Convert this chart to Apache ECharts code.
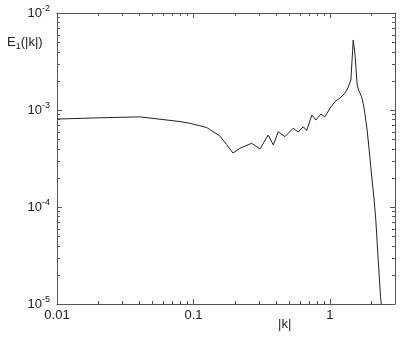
<!DOCTYPE html>
<html>
<head>
<meta charset="utf-8">
<script src="https://cdn.jsdelivr.net/npm/echarts@6/dist/echarts.min.js"></script>
<style>
  html, body { margin: 0; padding: 0; background: #fff; }
  #chart { width: 403px; height: 347px; }
</style>
</head>
<body>
<div id="chart"></div>
<script>
// |k| values and energy spectrum E1(|k|)
var kValues = [0.01, 0.02, 0.0405, 0.0796, 0.094, 0.125, 0.156, 0.175, 0.195, 0.219, 0.267, 0.307, 0.353,
  0.385, 0.418, 0.468, 0.538, 0.586, 0.637, 0.675, 0.738, 0.789, 0.859, 0.918, 1.0, 1.088, 1.12, 1.18,
  1.22, 1.288, 1.325, 1.36, 1.40, 1.425, 1.466, 1.482, 1.524, 1.55, 1.585, 1.622, 1.66, 1.706, 1.754,
  1.803, 1.875, 1.94, 2.02, 2.11, 2.17, 2.26, 2.35, 2.38];
var eValues = [8.07e-4, 8.3e-4, 8.5e-4, 7.6e-4, 7.3e-4, 6.6e-4, 5.4e-4, 4.4e-4, 3.6e-4, 4.03e-4, 4.54e-4,
  3.96e-4, 5.52e-4, 4.36e-4, 5.97e-4, 5.31e-4, 6.47e-4, 5.93e-4, 6.73e-4, 6.15e-4, 8.87e-4, 7.88e-4,
  9.1e-4, 8.48e-4, 1.04e-3, 1.22e-3, 1.17e-3, 1.32e-3, 1.27e-3, 1.49e-3, 1.43e-3, 1.71e-3, 1.67e-3,
  2.04e-3, 3.99e-3, 5.27e-3, 3.85e-3, 2.79e-3, 1.81e-3, 1.61e-3, 1.55e-3, 1.37e-3, 1.17e-3, 9.25e-4,
  6.22e-4, 3.87e-4, 2.14e-4, 1.18e-4, 7.35e-5, 2.84e-5, 1.19e-5, 1.0e-5];
// axis ranges and the decades used for the ticks
var xRange = [0.01, 3];
var yRange = [1e-5, 1e-2];
var xDecades = [0.01, 0.1, 1];
var yDecades = [1e-5, 1e-4, 1e-3, 1e-2];

var seriesData = [];
for (var i = 0; i < kValues.length; i++) {
    seriesData.push([kValues[i], eValues[i]]);
}

function isDecade(v) {
    var l = Math.log10(v);
    return Math.abs(l - Math.round(l)) < 1e-6;
}

var frameColor = '#555';
var font = 'Liberation Sans, Arial, sans-serif';

function xAxisOpt(pos, labels) {
    return {
        type: 'log', logBase: 10, position: pos,
        min: xRange[0], max: xRange[1],
        axisLine: { show: true, lineStyle: { color: frameColor, width: 1 } },
        axisTick: { show: false },
        splitLine: { show: false },
        axisLabel: {
            show: labels, margin: 5, color: '#222', fontSize: 13, fontFamily: font,
            showMaxLabel: false,
            formatter: function (v) {
                if (!isDecade(v)) return '';
                return String(+v.toPrecision(3));
            }
        }
    };
}
function yAxisOpt(pos, labels) {
    return {
        type: 'log', logBase: 10, position: pos,
        min: yRange[0], max: yRange[1],
        axisLine: { show: true, lineStyle: { color: frameColor, width: 1 } },
        axisTick: { show: false },
        splitLine: { show: false },
        axisLabel: {
            show: labels, margin: 7, color: '#222', fontFamily: font,
            formatter: function (v) {
                if (!isDecade(v)) return '';
                return '{b|10}{s|' + Math.round(Math.log10(v)) + '}';
            },
            rich: {
                b: { fontSize: 13, fontFamily: font, color: '#222' },
                s: { fontSize: 9, fontFamily: font, color: '#222', padding: [0, 0, 9, 0] }
            }
        }
    };
}

var chart = echarts.init(document.getElementById('chart'));
chart.setOption({
    backgroundColor: '#fff',
    animation: false,
    grid: { left: 57, right: 8, top: 13, bottom: 43 },
    xAxis: [xAxisOpt('bottom', true), xAxisOpt('top', false)],
    yAxis: [yAxisOpt('left', true), yAxisOpt('right', false)],
    series: [{
        type: 'line',
        data: seriesData,
        symbol: 'none',
        clip: true,
        lineStyle: { color: '#222', width: 1 }
    }]
});

// ticks (major at decades, minor at 2..9) on all four sides, placed through the axis scales
var majorLen = 5, minorLen = 3;
var plotTop = chart.convertToPixel({ yAxisIndex: 0 }, yRange[1]);
var plotBottom = chart.convertToPixel({ yAxisIndex: 0 }, yRange[0]);
var plotLeft = chart.convertToPixel({ xAxisIndex: 0 }, xRange[0]);
var plotRight = chart.convertToPixel({ xAxisIndex: 0 }, xRange[1]);
function tickLine(x1, y1, x2, y2) {
    return { type: 'line', silent: true, shape: { x1: x1, y1: y1, x2: x2, y2: y2 }, style: { stroke: frameColor, lineWidth: 1 } };
}
var graphics = [
    {
        type: 'text', left: 7, top: 36,
        style: {
            text: '{e|E}{sub|1}{e|(|k|)}',
            rich: {
                e: { fontSize: 13, fontFamily: font, fill: '#222' },
                sub: { fontSize: 9, fontFamily: font, fill: '#222', padding: [9, 0, 0, 0] }
            }
        }
    },
    {
        type: 'text', left: 278, top: 318,
        style: { text: '|k|', fontSize: 13, fontFamily: font, fill: '#222' }
    }
];
for (var a = 0; a < xDecades.length; a++) {
    for (var m = 1; m <= 9; m++) {
        var xv = xDecades[a] * m;
        if (xv >= xRange[1]) break;
        var len = m === 1 ? majorLen : minorLen;
        var px = Math.round(chart.convertToPixel({ xAxisIndex: 0 }, xv)) + 0.5;
        graphics.push(tickLine(px, plotBottom, px, plotBottom - len));
        graphics.push(tickLine(px, plotTop, px, plotTop + len));
    }
}
for (var b = 0; b < yDecades.length; b++) {
    for (var n = 1; n <= 9; n++) {
        var yv = yDecades[b] * n;
        if (yv > yRange[1]) break;
        var lenY = n === 1 ? majorLen : minorLen;
        var py = Math.round(chart.convertToPixel({ yAxisIndex: 0 }, yv)) + 0.5;
        graphics.push(tickLine(plotLeft, py, plotLeft + lenY, py));
        graphics.push(tickLine(plotRight, py, plotRight - lenY, py));
    }
}
chart.setOption({ graphic: graphics });
</script>
</body>
</html>
